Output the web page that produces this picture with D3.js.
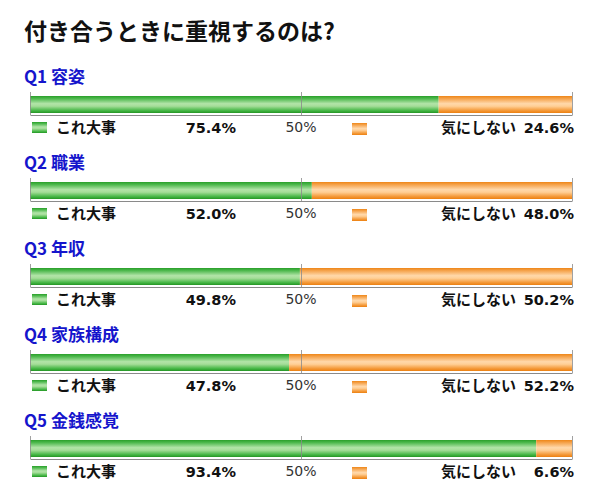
<!DOCTYPE html>
<html><head><meta charset="utf-8">
<script src="https://cdn.jsdelivr.net/npm/d3@7"></script>
<style>body{margin:0;background:#fff}</style>
</head><body>
<svg id="c" width="600" height="504"></svg>
<script>
const title = "付き合うときに重視するのは?";
const questions = ["Q1 容姿", "Q2 職業", "Q3 年収", "Q4 家族構成", "Q5 金銭感覚"];
const important = [75.4, 52.0, 49.8, 47.8, 93.4];
const dontCare = [24.6, 48.0, 50.2, 52.2, 6.6];
const seriesLabels = ["これ大事", "気にしない"];
const ticks = [0, 50, 100];

const svg = d3.select("#c");
const defs = svg.append("defs");
function grad(id, stops) {
  const g = defs.append("linearGradient").attr("id", id).attr("x1", 0).attr("y1", 0).attr("x2", 0).attr("y2", 1);
  stops.forEach(s => g.append("stop").attr("offset", s[0]).attr("stop-color", s[1]));
}
grad("gG", [[0, "#2a9f2a"], [0.15, "#4cb84c"], [0.45, "#b2e4a8"], [0.6, "#a4dd98"], [0.85, "#48b848"], [1, "#249624"]]);
grad("gO", [[0, "#ee8618"], [0.15, "#f5a24a"], [0.45, "#ffd8aa"], [0.6, "#ffcf96"], [0.85, "#f49a3a"], [1, "#ec8010"]]);

const x = d3.scaleLinear().domain([0, 100]).range([30, 572]);
const y = d3.scaleBand().domain(questions).range([70, 500]).paddingInner(0).paddingOuter(0);

svg.append("text").attr("x", 24).attr("y", 40).text(title)
  .attr("font-family", "'Noto Sans CJK JP', sans-serif").attr("font-weight", "bold")
  .attr("font-size", 23).attr("fill", "#111");

questions.forEach((q, i) => {
  const top = y(q);
  const g = svg.append("g").attr("transform", `translate(0,${top})`);
  g.append("text").attr("x", 24).attr("y", 13).text(q)
    .attr("font-family", "'Noto Sans CJK JP', sans-serif").attr("font-weight", "bold")
    .attr("font-size", 17).attr("fill", "#1515cc");
  const by = 26, bh = 17;
  g.append("rect").attr("x", x(0)).attr("y", by).attr("width", x(important[i]) - x(0)).attr("height", bh).attr("fill", "url(#gG)");
  g.append("rect").attr("x", x(important[i])).attr("y", by).attr("width", x(100) - x(important[i])).attr("height", bh).attr("fill", "url(#gO)");
  const ax = d3.axisBottom(x).tickValues(ticks).tickFormat("").tickSize(-(bh + 6)).tickSizeOuter(0);
  const ag = g.append("g").attr("transform", `translate(0,${by + bh + 2})`).call(ax);
  ag.select(".domain").attr("stroke", "#8a8a8a");
  ag.selectAll(".tick line").attr("stroke", "#8a8a8a").attr("stroke-opacity", 0.8);
  const ly = by + bh + 20;
  g.append("rect").attr("x", 32).attr("y", ly - 11).attr("width", 15).attr("height", 11).attr("fill", "url(#gG)");
  g.append("text").attr("x", 56).attr("y", ly).text(seriesLabels[0])
    .attr("font-family", "'Noto Sans CJK JP', sans-serif").attr("font-weight", "bold").attr("font-size", 15).attr("fill", "#111");
  g.append("text").attr("x", 236).attr("y", ly).attr("text-anchor", "end").text(important[i].toFixed(1) + "%")
    .attr("font-family", "'DejaVu Sans', Verdana, sans-serif").attr("font-weight", "bold").attr("font-size", 14.5).attr("fill", "#111");
  g.append("text").attr("x", x(50)).attr("y", ly - 1).attr("text-anchor", "middle").text("50%")
    .attr("font-family", "'DejaVu Sans', Verdana, sans-serif").attr("font-size", 14).attr("fill", "#333");
  g.append("rect").attr("x", 352).attr("y", ly - 10).attr("width", 15).attr("height", 12).attr("fill", "url(#gO)");
  g.append("text").attr("x", 516).attr("y", ly).attr("text-anchor", "end").text(seriesLabels[1])
    .attr("font-family", "'Noto Sans CJK JP', sans-serif").attr("font-weight", "bold").attr("font-size", 15).attr("fill", "#111");
  g.append("text").attr("x", 574).attr("y", ly).attr("text-anchor", "end").text(dontCare[i].toFixed(1) + "%")
    .attr("font-family", "'DejaVu Sans', Verdana, sans-serif").attr("font-weight", "bold").attr("font-size", 14.5).attr("fill", "#111");
});
</script>
</body></html>
